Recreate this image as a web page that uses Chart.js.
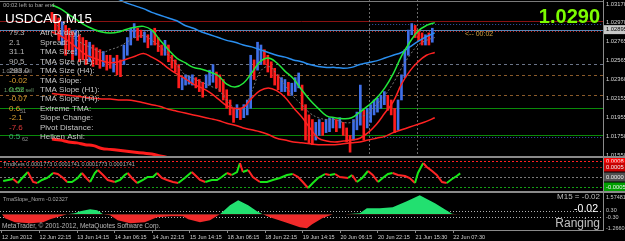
<!DOCTYPE html>
<html>
<head>
<meta charset="utf-8">
<script src="https://cdn.jsdelivr.net/npm/chart.js@4.4.1/dist/chart.umd.min.js"></script>
<style>
html,body{margin:0;padding:0;background:#000;width:625px;height:241px;overflow:hidden;}
canvas{position:absolute;left:0;}
.sep{position:absolute;left:0;width:625px;height:2px;background:#8a8a8a;}
</style>
</head>
<body>
<canvas id="main" width="625" height="156" style="top:0;width:625px;height:156px"></canvas>
<div class="sep" style="top:156px"></div>
<canvas id="osc" width="625" height="33" style="top:158px;width:625px;height:33px"></canvas>
<div class="sep" style="top:191px"></div>
<canvas id="slope" width="625" height="48" style="top:193px;width:625px;height:48px"></canvas>
<script>
// ================= DATA =================
// price: grouped M15 candles, one group every SAMPLE_STEP bars
const SAMPLE_STEP = 7;
const priceHigh = [1.0308,1.0305,1.0302,1.0298,1.0294,1.0291,1.0287,1.0289,1.0284,1.0281,
1.0278,1.0276,1.0273,1.0270,1.0268,1.0266,1.0262,1.0262,1.0259,1.0262,
1.0257,1.0273,1.0281,1.0291,1.0296,1.0291,1.0289,1.0287,1.0284,1.0289,
1.0291,1.0281,1.0273,1.0278,1.0273,1.0262,1.0257,1.0252,1.0238,1.0241,
1.0240,1.0241,1.0238,1.0236,1.0233,1.0241,1.0246,1.0252,1.0244,1.0241,
1.0236,1.0225,1.0214,1.0205,1.0209,1.0205,1.0209,1.0214,1.0262,1.0257,
1.0276,1.0273,1.0268,1.0262,1.0255,1.0248,1.0241,1.0238,1.0236,1.0233,
1.0232,1.0238,1.0243,1.0230,1.0209,1.0198,1.0193,1.0190,1.0193,1.0190,
1.0193,1.0195,1.0195,1.0193,1.0195,1.0190,1.0184,1.0176,1.0193,1.0201,
1.0230,1.0203,1.0205,1.0209,1.0214,1.0216,1.0219,1.0223,1.0219,1.0214,
1.0205,1.0214,1.0241,1.0268,1.0289,1.0296,1.0294,1.0289,1.0286,1.0284,
1.0286,1.0291];
const priceLow = [1.0298,1.0289,1.0278,1.0273,1.0262,1.0268,1.0257,1.0262,1.0255,1.0257,
1.0252,1.0255,1.0250,1.0252,1.0248,1.0250,1.0246,1.0248,1.0244,1.0241,
1.0239,1.0252,1.0262,1.0273,1.0281,1.0278,1.0281,1.0276,1.0270,1.0273,
1.0273,1.0266,1.0262,1.0262,1.0255,1.0248,1.0244,1.0227,1.0225,1.0230,
1.0231,1.0230,1.0227,1.0223,1.0217,1.0227,1.0230,1.0233,1.0227,1.0223,
1.0214,1.0205,1.0198,1.0190,1.0195,1.0193,1.0195,1.0198,1.0205,1.0236,
1.0246,1.0252,1.0252,1.0244,1.0238,1.0230,1.0225,1.0223,1.0223,1.0219,
1.0219,1.0223,1.0227,1.0203,1.0171,1.0168,1.0166,1.0171,1.0176,1.0176,
1.0179,1.0180,1.0184,1.0180,1.0184,1.0176,1.0169,1.0158,1.0171,1.0182,
1.0187,1.0171,1.0184,1.0190,1.0198,1.0201,1.0205,1.0209,1.0203,1.0198,
1.0179,1.0182,1.0214,1.0238,1.0262,1.0284,1.0281,1.0278,1.0273,1.0273,
1.0273,1.0276];
const priceDir = [-1,-1,-1,1,-1,-1,-1,1,-1,-1,
-1,1,-1,-1,-1,1,-1,-1,1,-1,
-1,1,1,1,1,-1,-1,1,-1,1,
-1,-1,-1,1,-1,-1,-1,-1,1,1,
1,1,-1,-1,-1,1,1,1,-1,-1,
-1,-1,-1,-1,1,-1,1,1,1,-1,
1,1,-1,-1,-1,-1,-1,1,1,-1,
1,1,1,-1,-1,-1,-1,1,1,-1,
1,1,1,-1,1,-1,-1,-1,1,1,
1,-1,1,1,1,1,1,1,-1,-1,
-1,1,1,1,1,1,-1,-1,-1,1,
-1,1];

// moving averages / bands, sampled at these bar indices
const maBars = [0,17,34,51,68,85,102,119,136,153,170,187,204,221,238,255,272,289,306,323,340,357,374,391,408,425,442,459,476,493,510,527,544,561,578,595,612,629,646,663,680,697,714,731,748,765,782];
const maBlue = [1.0351,1.0348,1.0344,1.0341,1.0336,1.0333,1.0329,1.0326,1.0322,1.0318,1.0315,1.0312,1.0308,1.0305,1.0302,1.0299,1.0294,1.0291,1.0287,1.0284,1.0281,1.0278,1.0276,1.0273,1.0271,1.0268,1.0265,1.0262,1.0260,1.0257,1.0255,1.0252,1.0250,1.0249,1.0249,1.0248,1.0249,1.0252,1.0254,1.0256,1.0259,1.0262,1.0265,1.0271,1.0277,1.0282,1.0286];
const maGreen = [1.0316,1.0312,1.0306,1.0300,1.0294,1.0290,1.0287,1.0286,1.0287,1.0290,1.0292,1.0293,1.0289,1.0278,1.0268,1.0259,1.0254,1.0249,1.0247,1.0244,1.0240,1.0231,1.0228,1.0232,1.0243,1.0255,1.0259,1.0254,1.0245,1.0237,1.0225,1.0214,1.0205,1.0197,1.0195,1.0194,1.0195,1.0201,1.0208,1.0216,1.0227,1.0242,1.0261,1.0276,1.0288,1.0294,1.0297];
const bandRed = [1.0287,1.0283,1.0277,1.0270,1.0263,1.0259,1.0256,1.0254,1.0255,1.0258,1.0261,1.0264,1.0260,1.0255,1.0248,1.0242,1.0237,1.0231,1.0227,1.0222,1.0215,1.0208,1.0205,1.0206,1.0216,1.0224,1.0227,1.0224,1.0217,1.0206,1.0196,1.0184,1.0173,1.0170,1.0169,1.0170,1.0171,1.0173,1.0179,1.0188,1.0200,1.0212,1.0231,1.0245,1.0255,1.0262,1.0265];
const maSlowRed = [1.0221,1.0220,1.0219,1.0218,1.0217,1.0216,1.0215,1.0215,1.0214,1.0214,1.0213,1.0211,1.0209,1.0207,1.0204,1.0202,1.0200,1.0198,1.0196,1.0194,1.0192,1.0189,1.0187,1.0184,1.0182,1.0180,1.0177,1.0173,1.0171,1.0169,1.0168,1.0167,1.0166,1.0166,1.0166,1.0167,1.0168,1.0169,1.0171,1.0173,1.0175,1.0179,1.0182,1.0185,1.0188,1.0191,1.0195];
const maThickRed = [1.0172,1.0171,1.0169,1.0168,1.0166,1.0165,1.0162,1.0161,1.0160,1.0159,1.0158,1.0157,1.0156,1.0154,1.0152,1.0150,1.0148];
const maGrayDot = [1.0300,1.0291,1.0284,1.0278,1.0273,1.0269,1.0265,1.0268,1.0271,1.0276,1.0281,1.0283,1.0278,1.0271,1.0262,1.0252,1.0241,1.0237,1.0233,1.0229,1.0225,1.0214,1.0205,1.0205,1.0223,1.0244,1.0250,1.0242,1.0230,1.0218,1.0209,1.0200,1.0195,1.0193,1.0193,1.0190,1.0190,1.0195,1.0200,1.0209,1.0219,1.0232,1.0248,1.0262,1.0273,1.0278,1.0281];

// TrndKeis oscillator
const oscBars = [2,19,27,36,44,53,60,68,77,87,95,104,111,119,129,136,145,150,158,163,172,180,192,201,209,214,221,230,240,248,257,264,272,281,291,300,311,323,332,337,346,357,366,374,383,391,400,405,410,419,427,439,451,461,473,485,495,504,512,521,529,538,550,558,567,575,589,596,604,613,623,631,640,648,657,665,674,686,694,703,708,717,723,732,740,749,757,766,774,780];
const oscVals = [-0.0002,-0.0001,-0.0003,0,0.00025,-0.00025,-0.0003,-0.00015,-0.00005,0.0002,
0.00015,-0.00005,-0.00025,-0.00025,-0.00005,0.0002,-0.0001,-0.00025,0.0002,0.00035,
0.0001,-0.00015,-0.00025,-0.00015,0.0001,0.0002,-0.00005,-0.0003,-0.00015,0,
0,0.0002,-0.00005,-0.00015,-0.00025,-0.0003,-0.00005,0.00025,0,-0.00015,
-0.00025,-0.00015,-0.00015,0,0.0002,0.0001,0.00025,0.0007,0.00025,0.00035,
0,-0.00025,-0.00025,-0.00015,-0.00005,0.0001,0.00015,0,-0.00025,-0.00055,
-0.0003,-0.00005,0.00015,0.0001,0.00015,0,-0.00005,0.0001,-0.00025,-0.00005,
0.0003,0.0001,-0.00025,-0.00005,0.00015,0.0002,0.0001,0.00005,-0.00005,-0.0003,
0.0002,0.0007,0.0005,0.0003,0.0001,-0.00025,-0.0003,-0.0001,0.00005,0.00018];

// TmaSlope_Norm histogram
const slopeBars = [0,5,22,48,70,82,99,111,124,133,150,162,172,184,197,218,243,264,286,308,317,337,354,368,371,388,402,419,434,444,456,482,507,519,528,545,563,584,609,621,643,665,689,711,737,766,780];
const slopeVals = [0,-0.37,-0.73,-0.82,-0.73,-0.46,-0.18,0,0.09,0.27,0.46,0.37,0,-0.09,-0.55,-0.82,-0.73,-0.27,-0.18,-0.18,-0.46,-0.73,-0.55,-0.09,0,0.82,1.28,0.82,0.27,0,-0.27,-0.73,-1.19,-1.28,-0.92,-0.37,0,0,0.09,0.55,0.55,0.64,1.19,1.74,1.01,0.05,-0.02];

// axes
const priceTicks = [1.0317,1.0297,1.02895,1.02765,1.02565,1.0236,1.02155,1.01955,1.0175,1.0155];
const oscTicks = [0.0008,0.0005,0,-0.0005];
const slopeTicks = [1.57481,0.3,-0.3,-1.26607];
const slopeTickLabels = ['1.57481','0.30','-0.30','-1.26607'];
const timeTickBars = [0,64,128,192,256,320,384,448,512,576,640,704,768];
const timeLabels = ['12 Jun 2012','12 Jun 22:15','13 Jun 14:15','14 Jun 06:15','14 Jun 22:15','15 Jun 14:15','18 Jun 06:15','18 Jun 22:15','19 Jun 14:15','20 Jun 06:15','20 Jun 22:15','21 Jun 15:30','22 Jun 07:30'];

// horizontal price levels and vertical markers
const levelPrices = [1.0299,1.02895,1.0288,1.0296,1.0253,1.0241,1.0219,1.0205,1.0176,1.0174];
const levelFromBar = [null,null,null,648,null,null,null,null,null,648];
const markerBars = [648,745];
const oscLevels = [0.0008,0.0005,0,-0.0005];
const slopeLevels = [0.3,-0.3];

// info panel
const infoLabels = ['Atr(14 day):','Spread:','TMA Size:','TMA Size (H1):','TMA Size (H4):','TMA Slope:','TMA Slope (H1):','TMA Slope (H4):','Extreme TMA:','Slope Change:','Pivot Distance:','Heiken Ashi:'];
const infoValues = ['79.3','2.1','31.1','90.5','283.0','-0.02','0.52','-0.07','0.6','-2.1','-7.6','0.5'];

// ================= STYLE / RENDER =================
const X_MIN = -3.4, X_MAX = 1023, AXIS_W = 22;
const FF = "'Liberation Sans', Arial, sans-serif";
Chart.defaults.font.family = FF;
Chart.defaults.color = '#c8c8c8';

const infoColors = ['#b4b4b4','#b4b4b4','#b4b4b4','#b4b4b4','#b4b4b4','#dca030','#40c040','#dca030','#dca030','#dca030','#e03a3a','#38b070'];
const levelStyles = [
  ['#8a1212',[]],['#5a86b4',[]],['#c02020',[1,2]],['#3858b0',[1,2]],['#6a7488',[3,3]],
  ['#8a5a2a',[3,3]],['#8a5a2a',[3,3]],['#0a8a0a',[]],['#0a8a0a',[]],['#3858b0',[1,2]]
];

function T(ctx,s,x,y,font,color,align,base){
  ctx.font=font; ctx.fillStyle=color; ctx.textAlign=align||'left'; ctx.textBaseline=base||'middle'; ctx.fillText(s,x,y);
}
function yAxisFit(s){ s.width = AXIS_W; s.paddingTop = 0; s.paddingBottom = 0; }
const xHidden = {type:'linear', min:X_MIN, max:X_MAX, display:false};
const common = {responsive:false, animation:false, events:[], maintainAspectRatio:false,
  layout:{padding:0}, plugins:{legend:{display:false}, tooltip:{enabled:false}}};

function pts(xs, ys){ return ys.map((v,i)=>({x:xs[i], y:v})); }

// ---------- main chart ----------
const mainDecor = {
  id:'mainDecor',
  beforeDatasetsDraw(chart){
    const {ctx, chartArea:a, scales:{x,y}} = chart;
    ctx.save();
    ctx.beginPath(); ctx.rect(a.left,a.top,a.right-a.left,a.bottom-a.top); ctx.clip();
    ctx.lineWidth = 1;
    levelPrices.forEach((p,i)=>{
      const py = Math.round(y.getPixelForValue(p))+0.5;
      const x0 = levelFromBar[i]===null ? a.left : x.getPixelForValue(levelFromBar[i]);
      ctx.strokeStyle = levelStyles[i][0]; ctx.setLineDash(levelStyles[i][1]);
      ctx.beginPath(); ctx.moveTo(x0,py); ctx.lineTo(a.right,py); ctx.stroke();
    });
    ctx.strokeStyle = '#6a6a6a'; ctx.setLineDash([2,2]);
    markerBars.forEach(b=>{
      const px = Math.round(x.getPixelForValue(b))+0.5;
      ctx.beginPath(); ctx.moveTo(px,a.top); ctx.lineTo(px,a.bottom); ctx.stroke();
    });
    ctx.restore();
  },
  afterDatasetsDraw(chart){
    const {ctx} = chart;
    ctx.save();
    ctx.fillStyle = '#7a7a7a'; ctx.fillRect(0,1,603,1);
    T(ctx,'00:02 left to bar end',3,5,'5.8px '+FF,'#a8a8a8');
    T(ctx,'USDCAD,M15',5,23,'13.5px '+FF,'#ffffff','left','alphabetic');
    T(ctx,'1.0290',600,23,'bold 20px '+FF,'#7cfc00','right','alphabetic');
    T(ctx,'<-- 00:02',465,34,'7px '+FF,'#d0a040');
    const rows = [33,43,52,62,71,81,90,99,109,118,128,137];
    infoLabels.forEach((s,i)=>{
      T(ctx,s,40,rows[i],'8px '+FF,'#c4c4c4');
      T(ctx,infoValues[i],9,rows[i],'8px '+FF,infoColors[i]);
    });
    T(ctx,'1.02589 sell',2,71,'5.5px '+FF,'#909090');
    T(ctx,'1.01526 sell',4,90,'5.5px '+FF,'#6a9a6a');
    T(ctx,'51',20,111,'5.5px '+FF,'#909090');
    T(ctx,'62',22,139,'5.5px '+FF,'#909090');
    ctx.restore();
  }
};

new Chart(document.getElementById('main'), {
  type:'line',
  data:{datasets:[
    {type:'line', data:pts(maBars,maGreen), borderColor:'#22e83a', borderWidth:1.5, pointRadius:0, tension:0.4},
    {type:'line', data:pts(maBars,maBlue), borderColor:'#2a8ff0', borderWidth:1.5, pointRadius:0, tension:0.4},
    {type:'line', data:pts(maBars,bandRed), borderColor:'#ff2222', borderWidth:1.5, pointRadius:0, tension:0.4},
    {type:'line', data:pts(maBars,maSlowRed), borderColor:'#ff2222', borderWidth:1.5, pointRadius:0, tension:0.4},
    {type:'line', data:pts(maBars,maThickRed), borderColor:'#ff1c1c', borderWidth:3, pointRadius:0, tension:0.4},
    {type:'line', data:pts(maBars,maGrayDot), borderColor:'#7a7a7a', borderWidth:1, borderDash:[2,2], pointRadius:0, tension:0.4},
    {type:'bar', data:priceHigh.map((h,i)=>({x:i*SAMPLE_STEP, y:[priceLow[i],h]})),
      backgroundColor:priceDir.map(d=>d>0?'#3f6fe8':'#ff1c1c'), barThickness:2, grouped:false}
  ]},
  options:Object.assign({}, common, {
    scales:{
      x:xHidden,
      y:{type:'linear', position:'right', min:1.01539, max:1.03213,
        grid:{display:false, drawTicks:false}, border:{display:true, color:'#8a8a8a'},
        afterBuildTicks:s=>{ s.ticks = priceTicks.map(v=>({value:v})); },
        afterFit:yAxisFit,
        ticks:{autoSkip:false, padding:3, font:{size:5.8},
          callback:v=>v.toFixed(5),
          color:c=>c.index===2?'#000000':'#d8d8d8',
          showLabelBackdrop:true,
          backdropColor:c=>c.index===2?'#c8c8c8':'rgba(0,0,0,0)',
          backdropPadding:{top:1,bottom:1,left:2,right:6}}
      }
    }
  }),
  plugins:[mainDecor]
});

// ---------- oscillator ----------
const oscDecor = {
  id:'oscDecor',
  beforeDatasetsDraw(chart){
    const {ctx, chartArea:a, scales:{y}} = chart;
    const cols = ['#ff2020','#a01414','#7a7a7a','#14a014'];
    ctx.save(); ctx.lineWidth=1; ctx.setLineDash([2,2]);
    oscLevels.forEach((v,i)=>{
      const py = Math.round(y.getPixelForValue(v))+0.5;
      ctx.strokeStyle = cols[i]; ctx.beginPath(); ctx.moveTo(a.left,py); ctx.lineTo(a.right,py); ctx.stroke();
    });
    ctx.restore();
  },
  afterDatasetsDraw(chart){
    const {ctx} = chart;
    T(ctx,'TrndKeis 0.0001773 0.0001741 0.0001773 0.0001741',3,6,'5.5px '+FF,'#a8a8a8');
  }
};
new Chart(document.getElementById('osc'), {
  type:'line',
  data:{datasets:[{data:pts(oscBars,oscVals), borderWidth:2, pointRadius:0, tension:0,
    segment:{borderColor:c=>c.p1.parsed.y>=c.p0.parsed.y?'#18e818':'#ff2424'}}]},
  options:Object.assign({}, common, {
    scales:{
      x:xHidden,
      y:{type:'linear', position:'right', min:-0.0007, max:0.00095,
        grid:{display:false, drawTicks:false}, border:{display:true, color:'#8a8a8a'},
        afterBuildTicks:s=>{ s.ticks = oscTicks.map(v=>({value:v})); },
        afterFit:yAxisFit,
        ticks:{autoSkip:false, padding:3, font:{size:5.8}, color:'#f0f0f0',
          callback:v=>v.toFixed(4),
          showLabelBackdrop:true,
          backdropColor:c=>['#ff0000','#c80000','#505050','#00a000'][c.index],
          backdropPadding:{top:1,bottom:1,left:2,right:6}}
      }
    }
  }),
  plugins:[oscDecor]
});

// ---------- TmaSlope_Norm ----------
const slopeDecor = {
  id:'slopeDecor',
  beforeDatasetsDraw(chart){
    const {ctx, chartArea:a, scales:{y}} = chart;
    ctx.save(); ctx.lineWidth=1; ctx.setLineDash([1,2]); ctx.strokeStyle='#b0b0b0';
    slopeLevels.forEach(v=>{
      const py = Math.round(y.getPixelForValue(v))+0.5;
      ctx.beginPath(); ctx.moveTo(a.left,py); ctx.lineTo(a.right,py); ctx.stroke();
    });
    ctx.restore();
  },
  afterDatasetsDraw(chart){
    const {ctx} = chart;
    ctx.save();
    T(ctx,'TmaSlope_Norm -0.02327',3,6,'5.5px '+FF,'#a8a8a8');
    T(ctx,'MetaTrader, \u00a9 2001-2012, MetaQuotes Software Corp.',2,33.5,'6.5px '+FF,'#b8b8b8');
    T(ctx,'M15 = -0.02',600,4,'8px '+FF,'#bcbcbc','right');
    T(ctx,'-0.02',598,16.5,'10.5px '+FF,'#ffffff','right');
    T(ctx,'Ranging',600,30.5,'12px '+FF,'#c0c0c0','right');
    ctx.restore();
  }
};
new Chart(document.getElementById('slope'), {
  type:'line',
  data:{datasets:[{data:pts(slopeBars,slopeVals), borderWidth:0, borderColor:'rgba(0,0,0,0)', pointRadius:0, tension:0,
    fill:{target:'origin', above:'#22e070', below:'#f02a2a'}}]},
  options:Object.assign({}, common, {
    scales:{
      x:{type:'linear', min:X_MIN, max:X_MAX, position:'bottom',
        afterBuildTicks:s=>{ s.ticks = timeTickBars.map(v=>({value:v})); },
        afterFit:s=>{ s.height = 11; s.paddingLeft = 0; s.paddingRight = 0; },
        grid:{drawOnChartArea:false, drawTicks:true, tickLength:3, color:'#8a8a8a'},
        border:{display:true, color:'#8a8a8a'},
        ticks:{autoSkip:false, maxRotation:0, minRotation:0, align:'start', padding:1, font:{size:5.5}, color:'#d0d0d0',
          callback:(v,i)=>timeLabels[i]}
      },
      y:{type:'linear', position:'right', min:-1.448, max:1.943,
        grid:{display:false, drawTicks:false}, border:{display:true, color:'#8a8a8a'},
        afterBuildTicks:s=>{ s.ticks = slopeTicks.map(v=>({value:v})); },
        afterFit:yAxisFit,
        ticks:{autoSkip:false, padding:3, font:{size:5.5}, color:'#c8c8c8',
          callback:(v,i)=>slopeTickLabels[i]}
      }
    }
  }),
  plugins:[slopeDecor]
});
</script>
</body>
</html>
